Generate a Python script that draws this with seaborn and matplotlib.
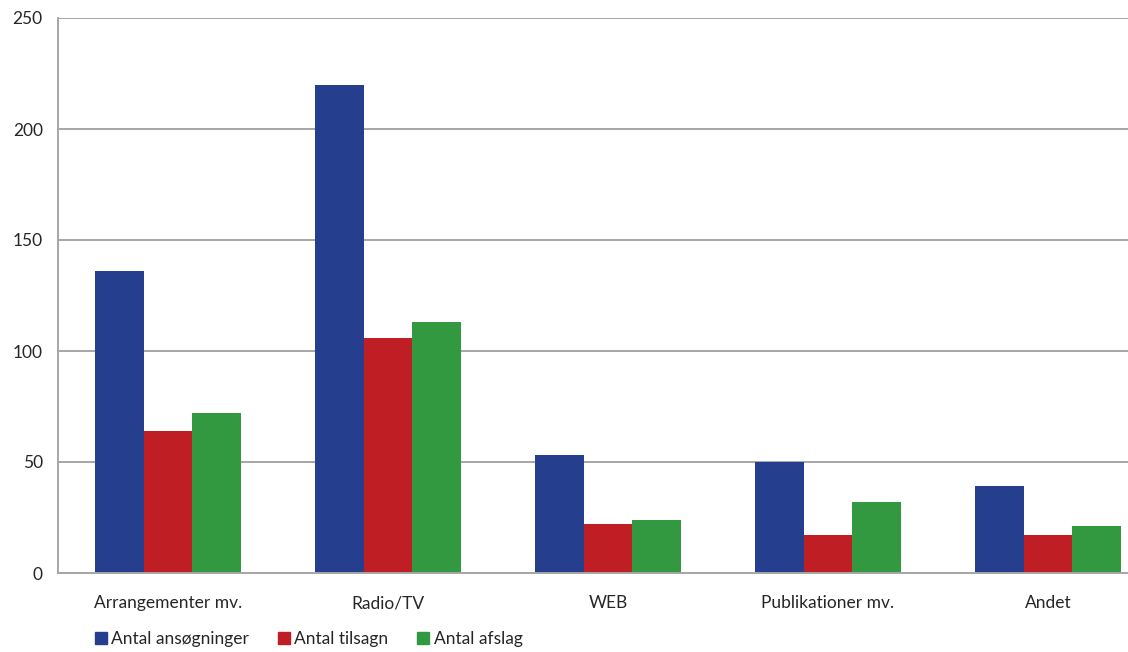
import numpy as np
import pandas as pd
import seaborn as sns
import matplotlib.pyplot as plt
from matplotlib.lines import Line2D

# data
categories = ['Arrangementer mv.', 'Radio/TV', 'WEB', 'Publikationer mv.', 'Andet']
ansoegninger = [136, 220, 53, 50, 39]
tilsagn = [64, 106, 22, 17, 17]
afslag = [72, 113, 24, 32, 21]
series = ['Antal ansøgninger', 'Antal tilsagn', 'Antal afslag']
colors = ['#253F8E', '#BF1E24', '#339940']

df = pd.DataFrame({'kategori': categories * 3,
                   'serie': [series[0]] * 5 + [series[1]] * 5 + [series[2]] * 5,
                   'antal': ansoegninger + tilsagn + afslag})

sns.set_style('white')
plt.rcParams['font.family'] = ['Lato', 'DejaVu Sans']

fig = plt.figure(figsize=(11.28, 6.52), dpi=100)
ax = fig.add_axes([58 / 1128, 1 - 573 / 652, 1 - 58 / 1128, (573 - 18) / 652])

sns.barplot(data=df, x='kategori', y='antal', hue='serie', palette=colors,
            width=0.66, gap=0, saturation=1, linewidth=0, ax=ax, legend=False)

ax.set_ylim(0, 250)
ax.set_xlim(-0.5, 4.5 - 30 / 220)
ax.set_yticks([0, 50, 100, 150, 200, 250])
ax.yaxis.grid(True, color='#A6A6A6', linewidth=1.4)
ax.set_axisbelow(True)
ax.set_xlabel('')
ax.set_ylabel('')

for s in ['top', 'right']:
    ax.spines[s].set_visible(False)
for s in ['left', 'bottom']:
    ax.spines[s].set_color('#A6A6A6')
    ax.spines[s].set_linewidth(1.4)

ax.tick_params(axis='y', length=4, width=1.2, color='#A6A6A6', labelsize=12.5, pad=7)
ax.tick_params(axis='x', which='major', length=0, labelsize=12.5, pad=16)
ax.set_xticks(np.arange(0.5, 4.5, 1), minor=True)
ax.tick_params(axis='x', which='minor', length=4, width=1.2, color='#A6A6A6')

handles = [Line2D([0], [0], marker='s', linestyle='', markersize=9,
                  markerfacecolor=c, markeredgecolor=c) for c in colors]
fig.legend(handles, series, loc='lower left', bbox_to_anchor=(0.068, -0.016),
           ncol=3, frameon=False, fontsize=12.5, handletextpad=0.1,
           columnspacing=1.5, handlelength=1.0)

plt.savefig('out.png', dpi=100)
